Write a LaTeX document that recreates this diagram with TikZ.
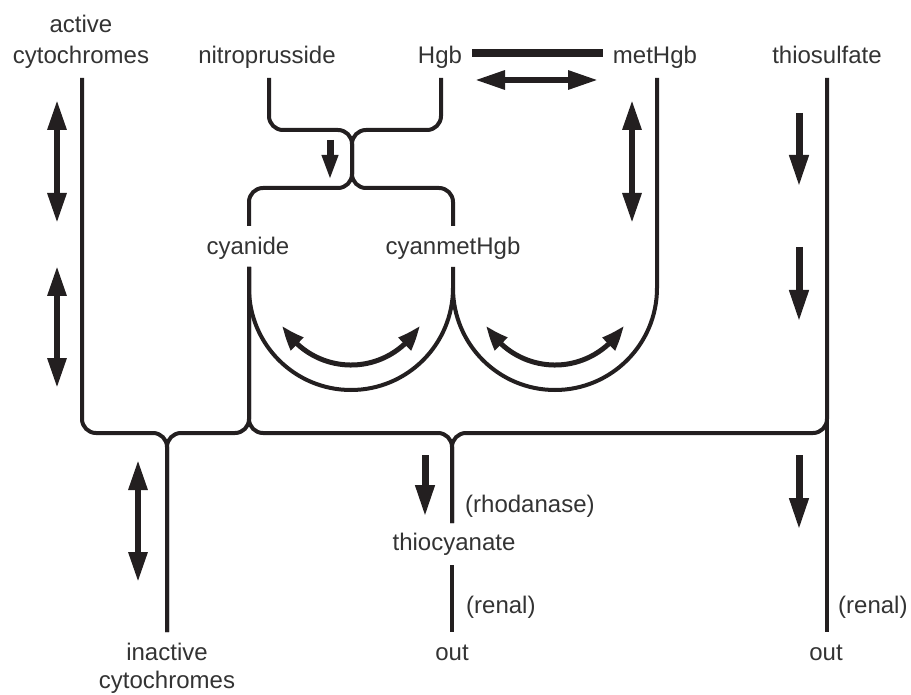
\documentclass[tikz,border=0pt]{standalone}
\usepackage{fontspec}
\setmainfont{Liberation Sans}
\usetikzlibrary{arrows.meta,bending}
\definecolor{ink}{HTML}{231F20}
\definecolor{txt}{HTML}{333333}
\begin{document}
\begin{tikzpicture}[x=1pt,y=-1pt,
  wire/.style={draw=ink, line width=4pt, rounded corners=14pt},
  uwire/.style={draw=ink, line width=4pt},
  lbl/.style={text=txt, font=\fontsize{24}{30}\selectfont, inner sep=0pt, anchor=base},
  lblw/.style={lbl, anchor=base west},
  fatdbl/.style={draw=ink, line width=6pt, {Triangle[length=30pt,width=18pt]}-{Triangle[length=30pt,width=18pt]}},
  fatone/.style={draw=ink, line width=7pt, -{Triangle[length=32pt,width=18pt]}},
  smallone/.style={draw=ink, line width=7pt, -{Triangle[length=25pt,width=15pt]}},
  curvdbl/.style={draw=ink, line width=5pt, {Triangle[length=24pt,width=17pt,bend]}-{Triangle[length=24pt,width=17pt,bend]}}
]
\useasboundingbox (0,0) rectangle (911,695);

% labels
\node[lbl] (active1) at (81,33) {active};
\node[lbl] (active2) at (81,64) {cytochromes};
\node[lbl] (nitro) at (267,64) {nitroprusside};
\node[lbl] (hgb) at (440,64) {Hgb};
\node[lbl] (methgb) at (655,64) {metHgb};
\node[lbl] (thio) at (827,64) {thiosulfate};
\node[lbl] (cyanide) at (248,255) {cyanide};
\node[lbl] (cyanmet) at (453,255) {cyanmetHgb};
\node[lblw] (rhod) at (465,512) {(rhodanase)};
\node[lbl] (thiocy) at (454,550) {thiocyanate};
\node[lblw] (renal1) at (466,613) {(renal)};
\node[lblw] (renal2) at (838,613) {(renal)};
\node[lbl] (out1) at (452,660) {out};
\node[lbl] (out2) at (826,660) {out};
\node[lbl] (inact1) at (167,660) {inactive};
\node[lbl] (inact2) at (167,688) {cytochromes};

% nitroprusside / Hgb crossing
\draw[wire] (269,78) -- (269,130) -- (352,130) -- (352,188) -- (249,188) -- (249,226);
\draw[wire] (441,78) -- (441,130) -- (352,130) -- (352,188) -- (453,188) -- (453,226);
\draw[smallone] (330,140) -- (330,180);

% Hgb = metHgb
\draw[draw=ink, line width=8pt] (472,53) -- (603,53);
\draw[fatdbl] (475,80) -- (598,80);

% U shapes
\draw[uwire] (249,267) -- (249,288) arc[start angle=180,end angle=360,radius=102pt] -- (453,267);
\draw[uwire] (657,78) -- (657,288) arc[start angle=0,end angle=-180,radius=102pt];
\draw[curvdbl] (351,286) ++(210:79pt) arc[start angle=210,end angle=330,radius=79pt];
\draw[curvdbl] (555,286) ++(210:79pt) arc[start angle=210,end angle=330,radius=79pt];

% lower network
\draw[wire] (82,78) -- (82,433) -- (167,433) -- (167,632);
\draw[wire] (249,267) -- (249,433) -- (167,433) -- (167,632);
\draw[wire] (249,267) -- (249,433) -- (452,433) -- (452,523);
\draw[wire] (827,78) -- (827,433) -- (452,433) -- (452,523);
\draw[uwire] (827,78) -- (827,632);
\draw[uwire] (452,565) -- (452,632);

% fat arrows
\draw[fatdbl] (57,100) -- (57,223);
\draw[fatdbl] (57,266) -- (57,388);
\draw[fatdbl] (632,100) -- (632,223);
\draw[fatdbl] (138,460) -- (138,582);
\draw[fatone] (799,113) -- (799,187);
\draw[fatone] (799,247) -- (799,322);
\draw[fatone] (799,455) -- (799,530);
\draw[fatone] (425,455) -- (425,517);
\end{tikzpicture}
\end{document}
